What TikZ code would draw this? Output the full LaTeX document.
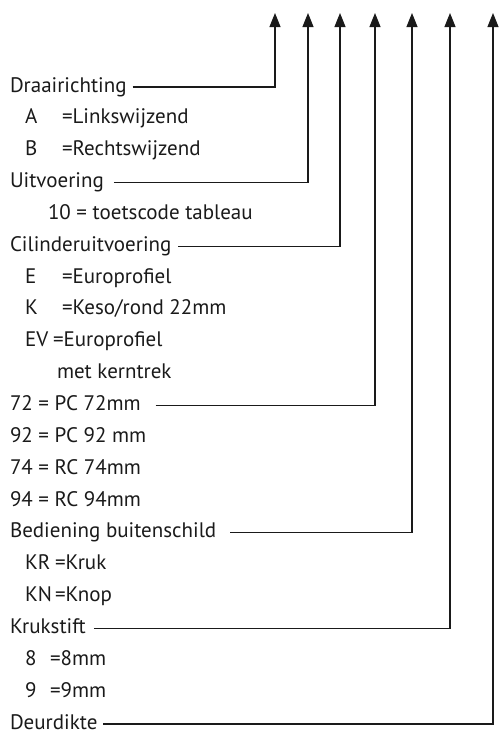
\documentclass[tikz,border=0pt]{standalone}
\usepackage{fontspec}
\setmainfont{PT Sans}
\usetikzlibrary{arrows.meta}
\definecolor{ink}{HTML}{1A1A1A}
\begin{document}
\begin{tikzpicture}[x=1pt,y=-1pt,
  lbl/.style={anchor=base west,inner sep=0pt,outer sep=0pt,text=ink,font=\fontsize{21}{25}\selectfont},
  conn/.style={draw=ink,line width=1.1pt,-{Triangle[length=14pt,width=11pt]}}]
\useasboundingbox (0,0) rectangle (501,742);
\def\p{31.85}
% rows: baseline y = 92 + i*pitch
\node[lbl] (r0) at (10,92) {Draairichting};
\node[lbl] (r1a) at (25,{92+1*\p}) {A};
\node[lbl] (r1b) at (62,{92+1*\p}) {=Linkswijzend};
\node[lbl] (r2a) at (25,{92+2*\p}) {B};
\node[lbl] (r2b) at (62,{92+2*\p}) {=Rechtswijzend};
\node[lbl] (r3) at (10,{92+3*\p}) {Uitvoering};
\node[lbl] (r4) at (48,{92+4*\p}) {10 = toetscode tableau};
\node[lbl] (r5) at (10,{92+5*\p}) {Cilinderuitvoering};
\node[lbl] (r6a) at (25,{92+6*\p}) {E};
\node[lbl] (r6b) at (62,{92+6*\p}) {=Europrofiel};
\node[lbl] (r7a) at (25,{92+7*\p}) {K};
\node[lbl] (r7b) at (62,{92+7*\p}) {=Keso/rond 22mm};
\node[lbl] (r8a) at (25,{92+8*\p}) {EV};
\node[lbl] (r8b) at (53,{92+8*\p}) {=Europrofiel};
\node[lbl] (r9) at (57,{92+9*\p}) {met kerntrek};
\node[lbl] (r10) at (10,{92+10*\p}) {72 = PC 72mm};
\node[lbl] (r11) at (10,{92+11*\p}) {92 = PC 92 mm};
\node[lbl] (r12) at (10,{92+12*\p}) {74 = RC 74mm};
\node[lbl] (r13) at (10,{92+13*\p}) {94 = RC 94mm};
\node[lbl] (r14) at (10,{92+14*\p}) {Bediening buitenschild};
\node[lbl] (r15a) at (25,{92+15*\p}) {KR};
\node[lbl] (r15b) at (55,{92+15*\p}) {=Kruk};
\node[lbl] (r16a) at (25,{92+16*\p}) {KN};
\node[lbl] (r16b) at (55,{92+16*\p}) {=Knop};
\node[lbl] (r17) at (10,{92+17*\p}) {Krukstift};
\node[lbl] (r18a) at (25,{92+18*\p}) {8};
\node[lbl] (r18b) at (50,{92+18*\p}) {=8mm};
\node[lbl] (r19a) at (25,{92+19*\p}) {9};
\node[lbl] (r19b) at (50,{92+19*\p}) {=9mm};
\node[lbl] (r20) at (10,{92+20*\p}) {Deurdikte};
% line starts, just right of each label, on the label's mid height
\coordinate[xshift=6pt,yshift=5pt] (s0) at (r0.base east);
\coordinate[xshift=10pt,yshift=5pt] (s3) at (r3.base east);
\coordinate[xshift=7pt,yshift=5pt] (s5) at (r5.base east);
\coordinate[xshift=15pt,yshift=5pt] (s10) at (r10.base east);
\coordinate[xshift=14pt,yshift=5pt] (s14) at (r14.base east);
\coordinate[xshift=8pt,yshift=5pt] (s17) at (r17.base east);
\coordinate[xshift=6pt,yshift=5pt] (s20) at (r20.base east);
% arrow tips
\coordinate (t0) at (275,13);
\coordinate (t3) at (308,13);
\coordinate (t5) at (340,13);
\coordinate (t10) at (375,13);
\coordinate (t14) at (412,13);
\coordinate (t17) at (450,13);
\coordinate (t20) at (493,13);
\foreach \i in {0,3,5,10,14,17,20}{
  \draw[conn] (s\i) -| (t\i);
}
\end{tikzpicture}
\end{document}
